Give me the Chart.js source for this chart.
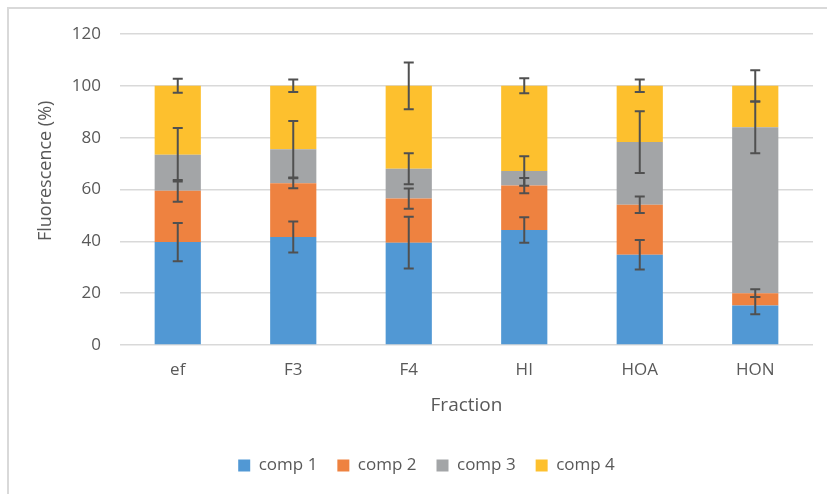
<!DOCTYPE html>
<html>
<head>
<meta charset="utf-8">
<script src="https://cdn.jsdelivr.net/npm/chart.js@4/dist/chart.umd.min.js"></script>
<style>
  html, body { margin: 0; padding: 0; background: #fff; }
  body { width: 827px; height: 494px; position: relative; overflow: hidden; }
  .frame { position: absolute; left: 7px; top: 7px; width: 900px; height: 600px;
           border-left: 2px solid #d9d9d9; border-top: 2px solid #d9d9d9; }
  #wrap { position: absolute; left: 0; top: 0; width: 827px; height: 494px; }
</style>
</head>
<body>
<div class="frame"></div>
<div id="wrap"><canvas id="chart"></canvas></div>
<script>
// Fractions on the x axis
const fractions = ['ef', 'F3', 'F4', 'HI', 'HOA', 'HON'];

// Share of fluorescence (%) per PARAFAC component
const comp1 = [39.7, 41.7, 39.5, 44.4, 34.8, 15.2];
const comp2 = [19.8, 20.7, 17.0, 17.1, 19.3, 4.8];
const comp3 = [13.9, 13.1, 11.5, 5.6, 24.2, 64.0];
const comp4 = [26.6, 24.5, 32.0, 32.9, 21.7, 16.0];

// Standard deviations, drawn at the top of each stacked segment
const err1 = [7.4, 6.0, 10.0, 4.9, 5.7, 3.3];
const err2 = [4.2, 1.9, 3.9, 2.9, 3.2, 1.5];
const err3 = [10.3, 10.9, 6.0, 5.7, 11.9, 10.0];
const err4 = [2.7, 2.4, 9.0, 2.9, 2.4, 6.0];

const yTicks = [0, 20, 40, 60, 80, 100, 120];
const yTitle = 'Fluorescence (%)';

const FONT = "'Open Sans', 'Noto Sans', sans-serif";
const TEXT = '#595959';

const errorSets = [err1, err2, err3, err4];

// Draws symmetric error bars at the cumulative top of every segment
const stackedErrorBars = {
  id: 'stackedErrorBars',
  afterDatasetsDraw(chart) {
    const { ctx } = chart;
    const y = chart.scales.y;
    const ds = chart.data.datasets;
    ctx.save();
    ctx.strokeStyle = '#505050';
    ctx.lineWidth = 2;
    for (let i = 0; i < ds.length; i++) {
      const meta = chart.getDatasetMeta(i);
      meta.data.forEach((bar, j) => {
        let cum = 0;
        for (let k = 0; k <= i; k++) cum += ds[k].data[j];
        const e = errorSets[i][j];
        const yHi = y.getPixelForValue(cum + e);
        const yLo = y.getPixelForValue(cum - e);
        const x = bar.x;
        const cap = 5;
        ctx.beginPath();
        ctx.moveTo(x, yHi); ctx.lineTo(x, yLo);
        ctx.moveTo(x - cap, yHi); ctx.lineTo(x + cap, yHi);
        ctx.moveTo(x - cap, yLo); ctx.lineTo(x + cap, yLo);
        ctx.stroke();
      });
    }
    ctx.restore();
  }
};

// Vertical axis title, placed a little above the axis midpoint
const yAxisTitle = {
  id: 'yAxisTitle',
  afterDraw(chart) {
    const { ctx, chartArea } = chart;
    const cy = chartArea.top + (chartArea.bottom - chartArea.top) * 0.44;
    ctx.save();
    ctx.translate(46, cy);
    ctx.rotate(-Math.PI / 2);
    ctx.fillStyle = TEXT;
    ctx.font = "18px " + FONT;
    ctx.textAlign = 'center';
    ctx.textBaseline = 'middle';
    ctx.fillText(yTitle, 0, 0);
    ctx.restore();
  }
};

const series = [
  { label: 'comp 1', data: comp1, color: '#5198d4' },
  { label: 'comp 2', data: comp2, color: '#ee8240' },
  { label: 'comp 3', data: comp3, color: '#a3a5a7' },
  { label: 'comp 4', data: comp4, color: '#fdc02e' }
];

new Chart(document.getElementById('chart'), {
  type: 'bar',
  data: {
    labels: fractions,
    datasets: series.map(s => ({
      label: s.label,
      data: s.data,
      backgroundColor: s.color,
      borderWidth: 0,
      barPercentage: 0.4,
      categoryPercentage: 1.0
    }))
  },
  options: {
    responsive: true,
    maintainAspectRatio: false,
    animation: false,
    layout: { padding: { left: 40, right: 14, top: 34, bottom: 10 } },
    plugins: {
      tooltip: { enabled: false },
      legend: {
        position: 'bottom',
        labels: {
          color: TEXT,
          font: { family: FONT, size: 17 },
          boxWidth: 12,
          boxHeight: 12,
          padding: 20
        }
      }
    },
    scales: {
      x: {
        stacked: true,
        grid: { display: false, drawTicks: false },
        border: { display: false },
        ticks: { color: TEXT, font: { family: FONT, size: 17 }, padding: 15 },
        title: {
          display: true, text: 'Fraction', color: TEXT,
          font: { family: FONT, size: 19 }, padding: { top: 0, bottom: 20 }
        },
        afterFit(scale) { scale.height = 92; }
      },
      y: {
        stacked: true,
        min: 0,
        max: 120,
        afterBuildTicks(scale) { scale.ticks = yTicks.map(v => ({ value: v })); },
        grid: { color: '#d9d9d9', lineWidth: 1.5, drawTicks: false },
        border: { display: false },
        ticks: { color: TEXT, font: { family: FONT, size: 17 }, padding: 19 },
        title: { display: false },
        afterFit(scale) { scale.width = 80; }
      }
    }
  },
  plugins: [stackedErrorBars, yAxisTitle]
});
</script>
</body>
</html>
